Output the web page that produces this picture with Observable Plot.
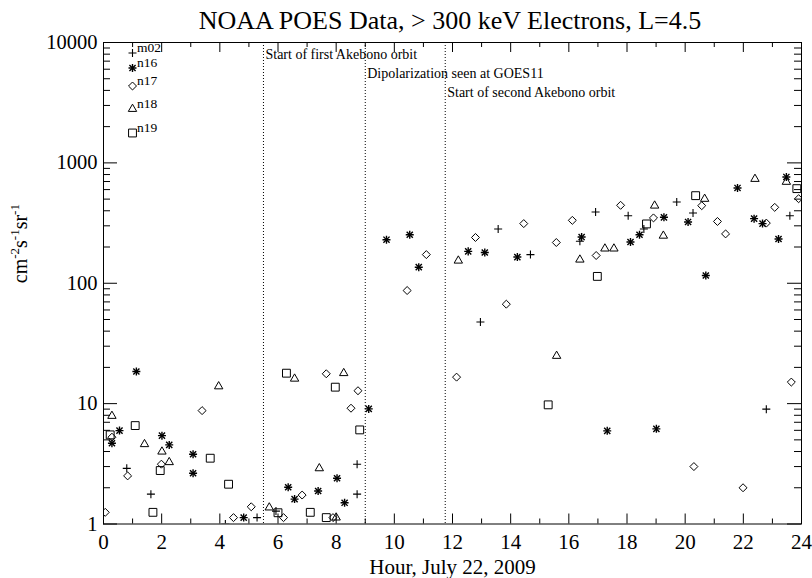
<!DOCTYPE html>
<html>
<head>
<meta charset="utf-8">
<script src="https://cdn.jsdelivr.net/npm/d3@7"></script>
<script src="https://cdn.jsdelivr.net/npm/@observablehq/plot@0.6"></script>
<style>
  body { margin: 0; background: #fff; }
  #title { width: 724px; padding-left: 88px; height: 36px; line-height: 42px; text-align: center;
           font-family: "Liberation Serif", serif; font-size: 26px; color: #000; white-space: nowrap; overflow: visible; }
  #chart svg { display: block; }
</style>
</head>
<body>
<div id="title">NOAA POES Data, &gt; 300 keV Electrons, L=4.5</div>
<div id="chart"></div>
<script>
// ---- Data ----
const m02Hour = [0.80, 1.63, 4.19, 5.28, 5.93, 8.72, 8.72, 12.96, 13.57, 14.68, 16.38, 16.92, 18.04, 18.58, 19.71, 20.27, 22.79, 23.60];
const m02Flux = [2.9, 1.77, 1.0, 1.13, 1.28, 3.14, 1.77, 47.6, 282, 173, 223, 391, 364, 282, 473, 383, 9.0, 364];

const n16Hour = [0.29, 0.55, 1.13, 2.01, 2.26, 3.08, 3.08, 4.82, 6.35, 6.57, 7.38, 8.03, 8.29, 9.12, 9.73, 10.53, 10.84, 12.54, 13.11, 14.23, 16.44, 17.32, 18.12, 18.43, 19.01, 19.27, 20.10, 20.71, 21.80, 22.37, 22.66, 23.21, 23.48];
const n16Flux = [4.69, 5.97, 18.5, 5.42, 4.54, 3.8, 2.64, 1.13, 2.02, 1.61, 1.88, 2.4, 1.5, 9.04, 230, 253, 136, 184, 180, 165, 242, 5.94, 220, 253, 6.17, 353, 323, 116, 619, 344, 313, 233, 764];

const n17Hour = [0.06, 0.29, 0.83, 1.99, 3.39, 4.47, 5.08, 6.19, 6.83, 7.66, 7.89, 8.51, 8.75, 10.44, 11.10, 12.14, 12.79, 13.85, 14.45, 15.57, 16.12, 16.94, 17.78, 18.91, 20.30, 20.57, 21.11, 21.39, 21.99, 22.79, 23.08, 23.65, 23.90];
const n17Flux = [1.25, 5.26, 2.51, 3.14, 8.75, 1.13, 1.39, 1.13, 1.74, 17.7, 1.13, 9.16, 12.8, 87, 173, 16.6, 240, 67, 313, 218, 333, 170, 444, 349, 3.0, 441, 326, 257, 2.0, 316, 427, 15.1, 504];

const n18Hour = [0.29, 1.41, 2.01, 2.26, 3.96, 5.70, 6.57, 7.42, 8.00, 8.26, 12.20, 15.58, 16.38, 17.24, 17.55, 18.95, 19.25, 20.67, 22.40, 23.48];
const n18Flux = [7.9, 4.6, 3.99, 3.26, 13.9, 1.37, 16.1, 2.9, 1.13, 17.9, 154, 24.9, 157, 194, 194, 441, 248, 502, 735, 695];

const n19Hour = [0.23, 1.09, 1.70, 1.95, 3.67, 4.30, 6.00, 6.29, 7.11, 7.66, 7.97, 8.81, 15.29, 16.98, 18.67, 20.36, 23.84];
const n19Flux = [5.5, 6.57, 1.25, 2.78, 3.52, 2.14, 1.24, 17.9, 1.25, 1.13, 13.7, 6.05, 9.77, 114, 311, 534, 611];

const satNames = ["m02", "n16", "n17", "n18", "n19"];

const eventHour = [5.5, 9.0, 11.75];
const eventLabel = ["Start of first Akebono orbit", "Dipolarization seen at GOES11", "Start of second Akebono orbit"];

const xTicks = [0, 2, 4, 6, 8, 10, 12, 14, 16, 18, 20, 22, 24];
const yTicks = [1, 10, 100, 1000, 10000];

const xLabel = "Hour, July 22, 2009";
const yLabelParts = [["cm", "-2"], ["s", "-1"], ["sr", "-1"]];

// ---- Build tables ----
const series = {
  m02: [m02Hour, m02Flux], n16: [n16Hour, n16Flux], n17: [n17Hour, n17Flux],
  n18: [n18Hour, n18Flux], n19: [n19Hour, n19Flux]
};
const rows = satNames.flatMap(name => series[name][0].map((h, i) => ({sat: name, hour: h, flux: series[name][1][i]})));
const events = eventHour.map((h, i) => ({hour: h, label: eventLabel[i]}));
const xMinor = d3.range(1, 24, 2);
const yMinor = yTicks.slice(0, -1).flatMap(d => d3.range(2, 10).map(m => m * d));

// ---- Layout ----
const W = 812, H = 542;
const mL = 103, mR = 11, mT = 6, mB = 54.5;
const pw = W - mL - mR, ph = H - mT - mB;
const font = "Liberation Serif";

const symStyle = {
  m02: [{symbol: "plus", r: 2.7, strokeWidth: 1.1}],
  n16: [{symbol: "plus", r: 2.7, strokeWidth: 1.4}, {symbol: "times", r: 2.9, strokeWidth: 1.4}],
  n17: [{symbol: "diamond2", r: 3.6, strokeWidth: 1}],
  n18: [{symbol: "triangle2", r: 4.0, strokeWidth: 1}],
  n19: [{symbol: "square2", r: 5.0, strokeWidth: 1}]
};
const legendDy = [10.5, 25.5, 43.5, 66.5, 90.5];

const dataMarks = satNames.flatMap(name => symStyle[name].map(s =>
  Plot.dot(rows.filter(d => d.sat === name), {x: "hour", y: "flux", symbol: s.symbol, r: s.r,
    stroke: "black", fill: "none", strokeWidth: s.strokeWidth, clip: true})));

const legendMarks = satNames.flatMap((name, i) => [
  ...symStyle[name].map(s => Plot.dot([name], {frameAnchor: "top-left", dx: 29, dy: legendDy[i],
    symbol: s.symbol, r: s.r, stroke: "black", fill: "none", strokeWidth: s.strokeWidth})),
  Plot.text([name], {frameAnchor: "top-left", dx: 33.5, dy: legendDy[i] - 11, text: d => d,
    textAnchor: "start", fontSize: 13.5, fontFamily: font, fill: "black"})
]);

const eventTextMarks = events.map((e, i) => Plot.text([e], {x: "hour", frameAnchor: "top", dy: 7 + 19 * i,
  dx: 2, text: "label", textAnchor: "start", fontSize: 14, fontFamily: font, fill: "black"}));

const chart = Plot.plot({
  width: W, height: H,
  marginLeft: mL, marginRight: mR, marginTop: mT, marginBottom: mB,
  style: {fontFamily: font, background: "white", color: "black", overflow: "visible"},
  x: {domain: [0, 24]},
  y: {type: "log", domain: [1, 10000]},
  marks: [
    // event lines
    Plot.ruleX(events, {x: "hour", stroke: "black", strokeWidth: 1, strokeDasharray: "1,2"}),
    // inward ticks, all four sides
    Plot.ruleX(xTicks, {stroke: "black", insetTop: ph - 10}),
    Plot.ruleX(xTicks, {stroke: "black", insetBottom: ph - 10}),
    Plot.ruleX(xMinor, {stroke: "black", insetTop: ph - 5}),
    Plot.ruleX(xMinor, {stroke: "black", insetBottom: ph - 5}),
    Plot.ruleY(yTicks, {stroke: "black", insetRight: pw - 14}),
    Plot.ruleY(yTicks, {stroke: "black", insetLeft: pw - 14}),
    Plot.ruleY(yMinor, {stroke: "black", insetRight: pw - 7}),
    Plot.ruleY(yMinor, {stroke: "black", insetLeft: pw - 7}),
    Plot.frame({stroke: "black", strokeWidth: 1}),
    Plot.axisX(xTicks, {tickSize: 0, tickPadding: 10.5, fontSize: 21, label: null, fill: "black"}),
    Plot.axisY(yTicks, {tickSize: 0, tickPadding: 6, fontSize: 20.5, label: null, fill: "black", tickFormat: d => String(d)}),
    Plot.text([xLabel], {frameAnchor: "bottom", dy: 50, text: d => d, fontSize: 21, fontFamily: font, fill: "black"}),
    Plot.text([yLabelParts.map(p => p.join("")).join("")], {frameAnchor: "left", dx: -83, rotate: -90, text: d => d,
      fontSize: 20, fontFamily: font, fill: "black", className: "ylab"}),
    ...eventTextMarks,
    ...dataMarks,
    ...legendMarks
  ]
});

// superscripts in the y-axis label
const ylab = chart.querySelector(".ylab text") || chart.querySelector("g.ylab text");
if (ylab) {
  const ns = "http://www.w3.org/2000/svg";
  while (ylab.firstChild) ylab.removeChild(ylab.firstChild);
  yLabelParts.forEach(([base, sup], i) => {
    const b = document.createElementNS(ns, "tspan");
    b.textContent = base;
    if (i > 0) b.setAttribute("dy", "8");
    ylab.appendChild(b);
    const s = document.createElementNS(ns, "tspan");
    s.textContent = sup;
    s.setAttribute("dy", "-8");
    s.setAttribute("font-size", "13");
    ylab.appendChild(s);
  });
  const last = document.createElementNS(ns, "tspan");
  last.setAttribute("dy", "8");
  last.textContent = "";
  ylab.appendChild(last);
}

document.getElementById("chart").appendChild(chart);
</script>
</body>
</html>
